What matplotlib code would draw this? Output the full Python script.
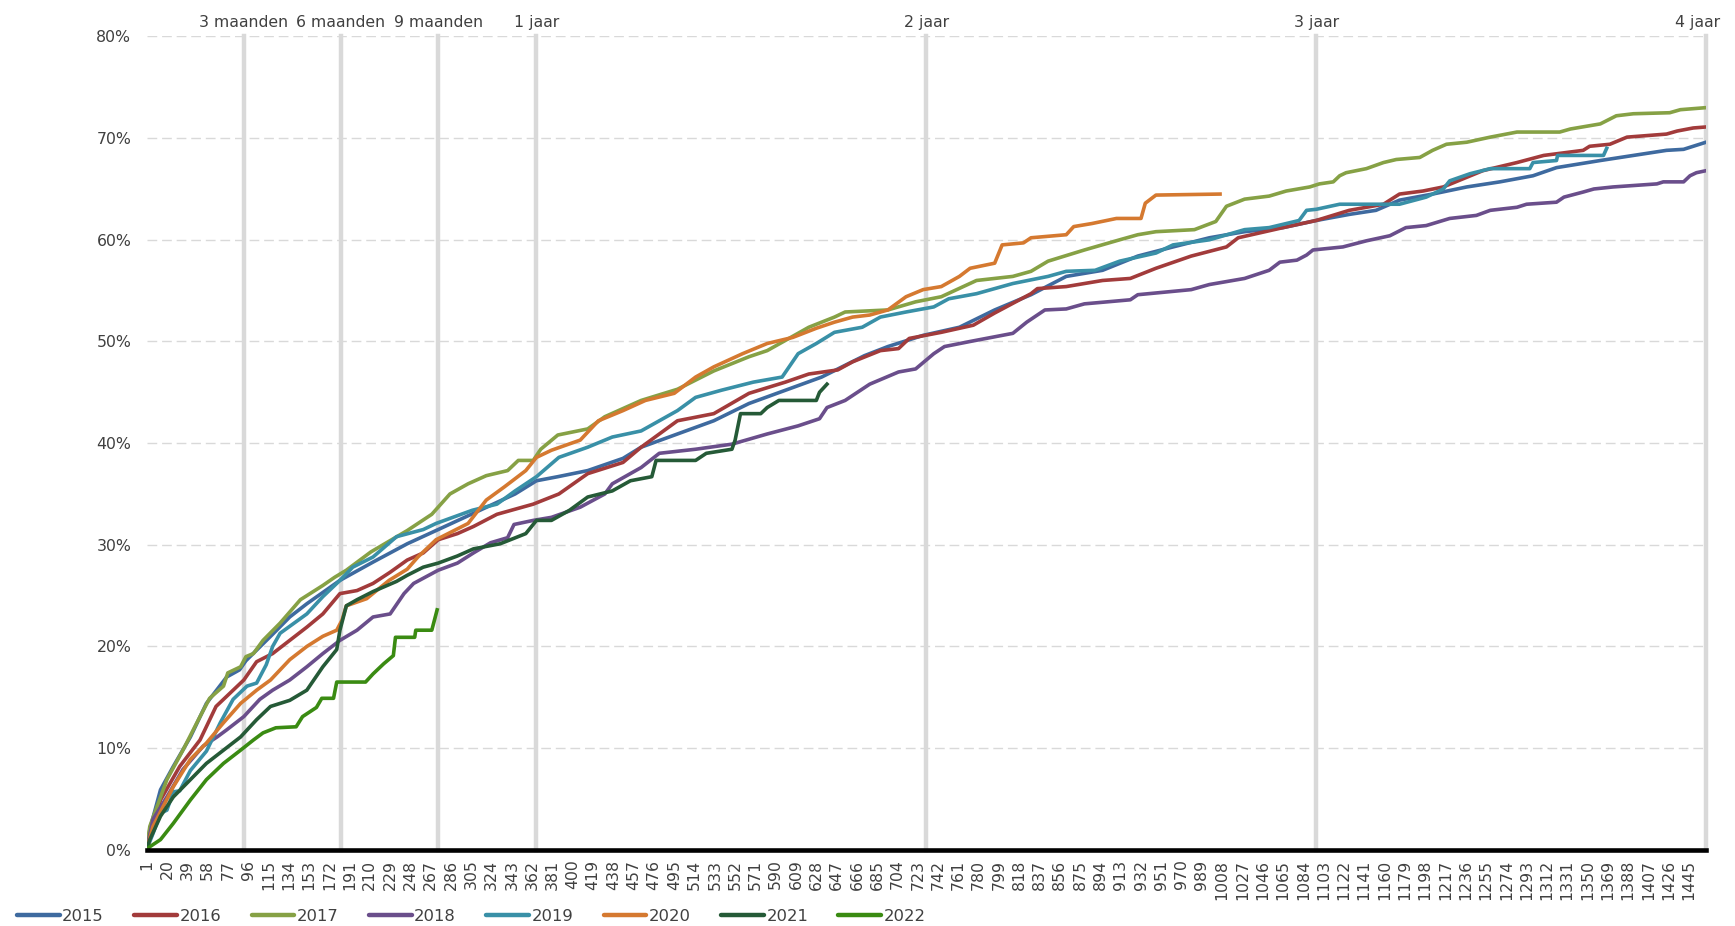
import numpy as np
import matplotlib
matplotlib.use("Agg")
import matplotlib.pyplot as plt
from matplotlib.lines import Line2D

# cumulative share (%) per cohort at selected days
days_2015 = [1, 4, 14, 26, 42, 57, 76, 88, 94, 119, 135, 151, 182, 213, 245, 274, 307, 346, 366, 386, 414, 447,
             464, 498, 532, 565, 599, 633, 673, 695, 728, 762, 795, 829, 862, 896, 929, 962, 996, 1029, 1065, 1096,
             1127, 1152, 1174, 1205, 1237, 1268, 1299, 1321, 1362, 1393, 1424, 1440, 1461]
vals_2015 = [0, 2.0, 5.9, 8.2, 11.1, 14.4, 17.0, 17.7, 18.6, 21.2, 22.9, 24.2, 26.5, 28.3, 30.1, 31.5, 33.1, 35.0,
             36.3, 36.7, 37.3, 38.5, 39.6, 40.9, 42.2, 43.9, 45.2, 46.5, 48.6, 49.5, 50.6, 51.4, 53.1, 54.6, 56.4, 57.0,
             58.4, 59.3, 60.2, 60.8, 61.2, 61.9, 62.5, 62.9, 63.9, 64.5, 65.2, 65.7, 66.3, 67.1, 67.8, 68.3, 68.8,
             68.9, 69.6]

days_2016 = [1, 14, 32, 51, 66, 79, 92, 104, 119, 135, 151, 166, 182, 198, 213, 229, 245, 260, 274, 292, 307, 329,
             363, 387, 414, 447, 464, 498, 532, 565, 599, 621, 648, 662, 688, 705, 715, 745, 775, 795, 829, 835, 862,
             896, 922, 946, 979, 1012, 1023, 1065, 1096, 1127, 1159, 1174, 1196, 1215, 1252, 1284, 1309, 1346, 1352,
             1371, 1387, 1424, 1434, 1449, 1461]
vals_2016 = [0, 4.9, 8.2, 10.8, 14.1, 15.4, 16.7, 18.5, 19.3, 20.6, 21.9, 23.2, 25.2, 25.5, 26.2, 27.3, 28.5, 29.2,
             30.5, 31.1, 31.8, 33.0, 34.0, 35.0, 37.0, 38.1, 39.6, 42.2, 42.9, 44.9, 46.0, 46.8, 47.2, 48.0, 49.1, 49.3,
             50.3, 50.9, 51.6, 52.8, 54.7, 55.2, 55.4, 56.0, 56.2, 57.2, 58.4, 59.3, 60.2, 61.2, 61.9, 62.9, 63.5,
             64.5, 64.8, 65.2, 66.8, 67.6, 68.3, 68.8, 69.2, 69.4, 70.1, 70.4, 70.7, 71.0, 71.1]

days_2017 = [1, 4, 20, 35, 51, 60, 73, 77, 89, 94, 101, 110, 126, 145, 166, 177, 188, 211, 245, 268, 285, 302, 319,
             339, 349, 363, 370, 386, 414, 430, 464, 498, 532, 565, 582, 599, 621, 645, 655, 695, 721, 745, 778, 812,
             829, 845, 879, 912, 929, 946, 982, 1002, 1012, 1029, 1052, 1068, 1090, 1099, 1112, 1118, 1124, 1143,
             1159, 1171, 1193, 1205, 1218, 1237, 1259, 1284, 1324, 1334, 1362, 1377, 1393, 1427, 1437, 1461]
vals_2017 = [0, 2.3, 6.9, 9.8, 13.1, 14.9, 16.1, 17.4, 18.0, 19.0, 19.3, 20.6, 22.3, 24.6, 26.0, 26.8, 27.5, 29.3,
             31.4, 33.0, 35.0, 36.0, 36.8, 37.3, 38.3, 38.3, 39.4, 40.8, 41.4, 42.6, 44.2, 45.3, 47.1, 48.5, 49.1,
             50.1, 51.4, 52.4, 52.9, 53.1, 53.9, 54.4, 56.0, 56.4, 56.9, 57.9, 59.0, 60.0, 60.5, 60.8, 61.0, 61.8,
             63.3, 64.0, 64.3, 64.8, 65.2, 65.5, 65.7, 66.3, 66.6, 67.0, 67.6, 67.9, 68.1, 68.8, 69.4, 69.6, 70.1,
             70.6, 70.6, 70.9, 71.4, 72.2, 72.4, 72.5, 72.8, 73.0]

days_2018 = [1, 7, 20, 35, 54, 67, 76, 92, 107, 119, 135, 151, 166, 182, 198, 213, 229, 242, 251, 274, 292, 307,
             323, 339, 345, 363, 380, 407, 430, 437, 464, 481, 515, 549, 582, 611, 631, 638, 655, 678, 705, 721, 738,
             748, 772, 812, 825, 842, 862, 879, 922, 929, 979, 996, 1029, 1052, 1062, 1078, 1087, 1093, 1121, 1143,
             1165, 1180, 1199, 1221, 1246, 1259, 1284, 1293, 1321, 1328, 1346, 1356, 1374, 1415, 1421, 1440, 1446,
             1452, 1461]
vals_2018 = [0, 3.0, 5.2, 7.9, 10.2, 11.1, 11.8, 13.1, 14.8, 15.7, 16.7, 18.0, 19.3, 20.6, 21.6, 22.9, 23.2, 25.2,
             26.2, 27.5, 28.2, 29.2, 30.2, 30.7, 32.0, 32.4, 32.7, 33.7, 35.0, 36.0, 37.6, 39.0, 39.4, 39.9, 40.9,
             41.7, 42.4, 43.5, 44.2, 45.8, 47.0, 47.3, 48.8, 49.5, 50.0, 50.8, 51.9, 53.1, 53.2, 53.7, 54.1, 54.6,
             55.1, 55.6, 56.2, 57.0, 57.8, 58.0, 58.5, 59.0, 59.3, 59.9, 60.4, 61.2, 61.4, 62.1, 62.4, 62.9, 63.2,
             63.5, 63.7, 64.2, 64.7, 65.0, 65.2, 65.5, 65.7, 65.7, 66.3, 66.6, 66.8]

days_2019 = [1, 7, 14, 20, 26, 32, 42, 57, 70, 82, 95, 104, 113, 119, 126, 151, 166, 182, 194, 213, 235, 260, 272,
             306, 329, 346, 366, 387, 414, 437, 464, 498, 515, 539, 569, 596, 611, 628, 645, 671, 688, 712, 738, 752,
             778, 812, 845, 862, 889, 912, 946, 962, 996, 1029, 1052, 1080, 1087, 1096, 1118, 1174, 1199, 1215, 1221,
             1240, 1259, 1296, 1299, 1321, 1322, 1365, 1368]
vals_2019 = [0, 1.6, 3.6, 3.9, 5.7, 5.8, 7.8, 9.7, 12.5, 14.8, 16.1, 16.4, 18.2, 20.0, 21.3, 23.2, 24.9, 26.5, 27.8,
             28.8, 30.8, 31.5, 32.1, 33.4, 34.0, 35.3, 36.7, 38.6, 39.6, 40.6, 41.2, 43.2, 44.5, 45.2, 46.0, 46.5,
             48.8, 49.8, 50.9, 51.4, 52.4, 52.9, 53.4, 54.2, 54.7, 55.7, 56.4, 56.9, 57.0, 57.9, 58.7, 59.5, 60.0,
             61.0, 61.2, 61.9, 62.9, 63.0, 63.5, 63.5, 64.2, 65.0, 65.8, 66.5, 67.0, 67.0, 67.6, 67.8, 68.3, 68.3, 69.0]

days_2020 = [1, 7, 26, 42, 57, 73, 89, 104, 117, 135, 151, 166, 179, 184, 188, 207, 228, 245, 255, 272, 302, 319,
             336, 356, 366, 380, 407, 424, 447, 468, 495, 515, 532, 559, 582, 606, 628, 645, 662, 678, 695, 712, 728,
             745, 762, 772, 795, 802, 822, 829, 862, 869, 886, 909, 932, 936, 946, 1006]
vals_2020 = [0, 2.3, 6.2, 8.9, 10.5, 12.5, 14.4, 15.7, 16.7, 18.7, 20.0, 21.0, 21.6, 22.6, 24.0, 24.7, 26.5, 27.6,
             28.8, 30.5, 32.1, 34.4, 35.7, 37.3, 38.6, 39.3, 40.3, 42.2, 43.2, 44.2, 44.9, 46.5, 47.5, 48.8, 49.8,
             50.4, 51.3, 51.9, 52.4, 52.6, 53.1, 54.4, 55.1, 55.4, 56.4, 57.2, 57.7, 59.5, 59.7, 60.2, 60.5, 61.3,
             61.6, 62.1, 62.1, 63.6, 64.4, 64.5]

days_2021 = [1, 4, 14, 26, 42, 57, 73, 89, 104, 117, 135, 151, 166, 179, 182, 188, 198, 213, 235, 245, 260, 274,
             292, 307, 332, 356, 366, 380, 397, 414, 437, 454, 474, 478, 515, 525, 549, 552, 557, 576, 582, 593, 628,
             631, 638]
vals_2021 = [0, 1.0, 3.3, 5.2, 6.9, 8.5, 9.8, 11.1, 12.8, 14.1, 14.7, 15.7, 18.0, 19.7, 21.6, 24.0, 24.6, 25.4, 26.4,
             27.0, 27.8, 28.2, 28.9, 29.6, 30.1, 31.1, 32.4, 32.4, 33.4, 34.7, 35.3, 36.3, 36.7, 38.3, 38.3, 39.0,
             39.4, 40.3, 42.9, 42.9, 43.5, 44.2, 44.2, 45.0, 45.8]

days_2022 = [1, 4, 14, 26, 42, 57, 73, 89, 101, 110, 122, 141, 147, 160, 165, 176, 179, 206, 213, 223, 232, 234,
             252, 253, 268, 273]
vals_2022 = [0, 0.3, 1.0, 2.6, 4.9, 6.9, 8.5, 9.8, 10.8, 11.5, 12.0, 12.1, 13.1, 14.0, 14.9, 14.9, 16.5, 16.5, 17.3,
             18.3, 19.1, 20.9, 20.9, 21.6, 21.6, 23.6]

years = ["2015", "2016", "2017", "2018", "2019", "2020", "2021", "2022"]
series_days = [days_2015, days_2016, days_2017, days_2018, days_2019, days_2020, days_2021, days_2022]
series_vals = [vals_2015, vals_2016, vals_2017, vals_2018, vals_2019, vals_2020, vals_2021, vals_2022]
colors = ["#3E6A9F", "#A23B3B", "#86A145", "#6A4E8B", "#3990A7", "#D57930", "#255A37", "#3A8B12"]

milestone_days = [92, 183, 274, 366, 731, 1096, 1461]
milestone_labels = ["3 maanden", "6 maanden", "9 maanden", "1 jaar", "2 jaar", "3 jaar", "4 jaar"]

y_ticks = [0, 10, 20, 30, 40, 50, 60, 70, 80]
x_ticks = list(range(1, 1462, 19))

TEXT = "#404040"
FS = 11.3

fig = plt.figure(figsize=(17.35, 9.26), dpi=100)
ax = fig.add_axes([0.0845, 0.0823, 0.8988, 0.8783])

for y in y_ticks[1:]:
    ax.axhline(y, color="#D9D9D9", lw=1.0, dashes=(7, 3.5), zorder=0)
for d in milestone_days:
    ax.axvline(d, color="#D9D9D9", lw=3.2, zorder=1, clip_on=False)
for d, lab in zip(milestone_days, milestone_labels):
    # the last label is nudged left so it stays inside the figure
    dx = -6 if d == milestone_days[-1] else 0
    ax.annotate(lab, xy=(d, 80), xytext=(dx, 5), textcoords="offset points",
                ha="center", va="bottom", fontsize=FS, color=TEXT)

for name, dd, vv, c in zip(years, series_days, series_vals, colors):
    ax.plot(dd, vv, color=c, lw=2.6, solid_joinstyle="round", zorder=3, label=name)

ax.set_xlim(1, 1461)
ax.set_ylim(0, 80)
ax.set_yticks(y_ticks)
ax.set_yticklabels([f"{v}%" for v in y_ticks], fontsize=FS, color=TEXT)
ax.set_xticks(x_ticks)
ax.set_xticklabels([str(v) for v in x_ticks], rotation=90, fontsize=FS, color=TEXT)
ax.tick_params(axis="y", length=0, pad=11)
ax.tick_params(axis="x", length=0, pad=7)
for side in ["left", "right", "top"]:
    ax.spines[side].set_visible(False)
ax.spines["bottom"].set_color("black")
ax.spines["bottom"].set_linewidth(3.3)
ax.spines["bottom"].set_zorder(5)

handles = [Line2D([0], [0], color=c, lw=3.2, solid_capstyle="round") for c in colors]
fig.legend(handles, years, loc="center left", bbox_to_anchor=(17 / 1735, 9.3 / 926), ncol=8,
           frameon=False, fontsize=11.8, handlelength=2.6, handletextpad=0.16, columnspacing=1.85,
           borderpad=0, borderaxespad=0, labelcolor=TEXT)

fig.savefig("out.png", dpi=100)
